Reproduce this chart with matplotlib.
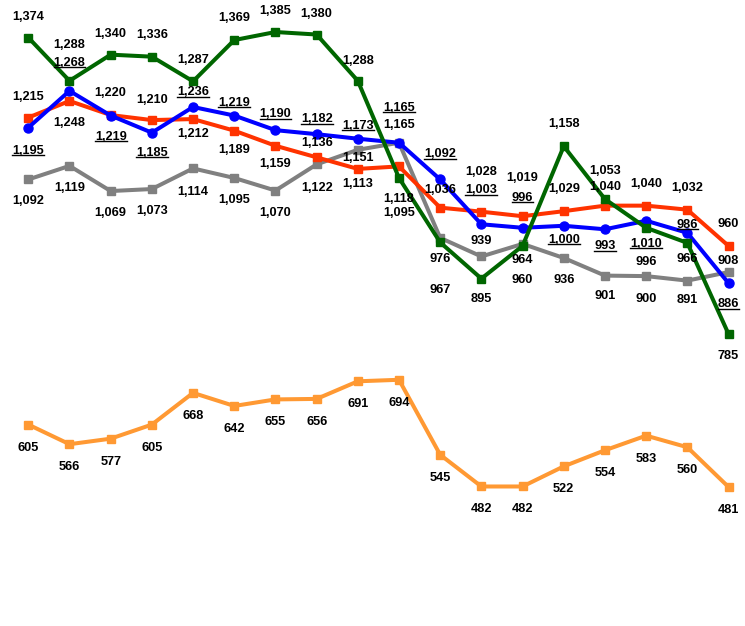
import matplotlib
matplotlib.use("Agg")
import matplotlib.pyplot as plt
from matplotlib.lines import Line2D

# ---- data ----
n_points = 18
green_vals = [1374, 1288, 1340, 1336, 1287, 1369, 1385, 1380, 1288, 1095, 967, 895, 960, 1158, 1053, 996, 966, 785]
blue_vals = [1195, 1268, 1219, 1185, 1236, 1219, 1190, 1182, 1173, 1165, 1092, 1003, 996, 1000, 993, 1010, 986, 886]
red_vals = [1215, 1248, 1220, 1210, 1212, 1189, 1159, 1136, 1113, 1118, 1036, 1028, 1019, 1029, 1040, 1040, 1032, 960]
gray_vals = [1092, 1119, 1069, 1073, 1114, 1095, 1070, 1122, 1151, 1165, 976, 939, 964, 936, 901, 900, 891, 908]
orange_vals = [605, 566, 577, 605, 668, 642, 655, 656, 691, 694, 545, 482, 482, 522, 554, 583, 560, 481]

# ---- label placement (pixels, + above / - below) ----
green_off = [21, 36, 21, 22, 21, 22, 21, 21, 20, -35, -48, -20, -34, 22, 28, -34, -16, -22]
blue_off = [-23, 28, -21, -20, 15, 13, 16, 15, 13, 35, 25, 34, 30, -14, -17, -23, 8, -21]
red_off = [21, -22, 22, 20, -15, -19, -18, 14, -15, -33, 18, 40, 38, 22, 19, 22, 22, 22]
gray_off = [-22, -22, -22, -22, -24, -22, -22, -24, -8, 18, -21, 15, -16, -22, -20, -23, -19, 11]
orange_off = [-23] * n_points

series = [
    (gray_vals, gray_off, "#808080", "s", False),
    (red_vals, red_off, "#FF3300", "s", False),
    (blue_vals, blue_off, "#0000FF", "o", True),
    (green_vals, green_off, "#006600", "s", False),
    (orange_vals, orange_off, "#FF9933", "s", False),
]

W, H = 745, 626
fig = plt.figure(figsize=(W / 100, H / 100), dpi=100)
ax = fig.add_axes([0, 0, 1, 1])
ax.set_xlim(-0.687, 17.40)
ax.set_ylim(204.8, 1448.6)
ax.axis("off")

x = list(range(n_points))
underlined = []
for vals, offs, col, mk, ul in series:
    ax.plot(x, vals, color=col, lw=2.9, marker=mk, ms=5.8 if mk == "s" else 6.5,
            mfc=col, mec=col, solid_joinstyle="miter")
    for i, v in enumerate(vals):
        t = ax.annotate(f"{v:,}", (i, v), xytext=(0, offs[i]), textcoords="offset pixels",
                        ha="center", va="center", fontsize=9.2, fontweight="bold",
                        family="Liberation Sans", color="black", zorder=10)
        if ul:
            underlined.append(t)

fig.canvas.draw()
r = fig.canvas.get_renderer()
for t in underlined:
    bb = t.get_window_extent(r)
    yline = bb.y0 + 1.5
    fig.add_artist(Line2D([bb.x0, bb.x1], [yline, yline], transform=None,
                          color="black", lw=1.0))

fig.savefig("out.png", dpi=100)
